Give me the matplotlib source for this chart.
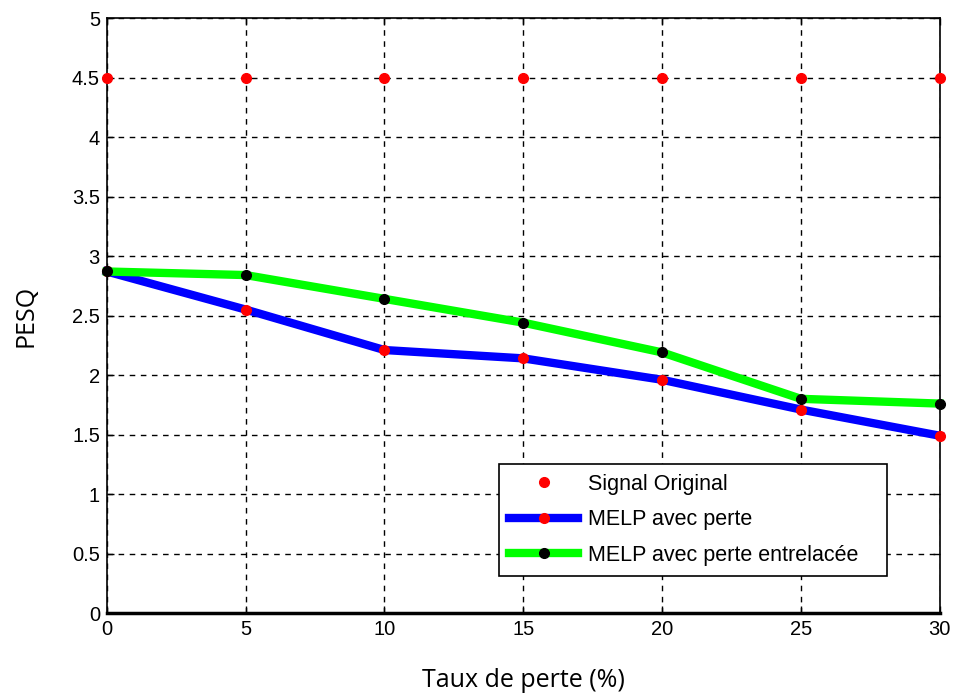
import matplotlib
matplotlib.use("Agg")
import matplotlib.pyplot as plt

taux = [0, 5, 10, 15, 20, 25, 30]
signal_original = [4.5, 4.5, 4.5, 4.5, 4.5, 4.5, 4.5]
melp_perte = [2.87, 2.55, 2.21, 2.14, 1.96, 1.71, 1.49]
melp_entrelacee = [2.87, 2.84, 2.64, 2.44, 2.19, 1.80, 1.76]
xticks = [0, 5, 10, 15, 20, 25, 30]
yticks = [0, 0.5, 1, 1.5, 2, 2.5, 3, 3.5, 4, 4.5, 5]
ytick_labels = ["0", "0.5", "1", "1.5", "2", "2.5", "3", "3.5", "4", "4.5", "5"]

fig = plt.figure(figsize=(9.54, 6.93), dpi=100)
ax = fig.add_axes([0.112, 0.1154, 0.873, 0.8586])

ax.plot(taux, signal_original, linestyle="none", marker="o", color="red",
        markersize=7, label="Signal Original", zorder=4, clip_on=False)
ax.plot(taux, melp_perte, color="#0000ff", linewidth=6, marker="o",
        markerfacecolor="red", markeredgecolor="red", markersize=7,
        label="MELP avec perte", zorder=3, clip_on=False)
ax.plot(taux, melp_entrelacee, color="#00ff00", linewidth=6, marker="o",
        markerfacecolor="black", markeredgecolor="black", markersize=7,
        label="MELP avec perte entrelacée", zorder=3, clip_on=False)

ax.set_xlim(0, 30)
ax.set_ylim(0, 5)
ax.set_xticks(xticks)
ax.set_yticks(yticks)
ax.set_yticklabels(ytick_labels)
for lbl in ax.get_xticklabels() + ax.get_yticklabels():
    lbl.set_family("Liberation Sans")
    lbl.set_fontsize(14.5)
ax.tick_params(direction="in", length=5, width=1, top=True, right=True, pad=5)

ax.grid(True, color="black", linestyle=(0, (4, 4)), linewidth=1)
for s in ax.spines.values():
    s.set_linewidth(1.2)
ax.spines["bottom"].set_linewidth(2.5)

ax.set_xlabel("Taux de perte (%)", fontsize=18, family="Open Sans", labelpad=21)
ax.set_ylabel("PESQ", fontsize=18, family="Open Sans", labelpad=24)

leg = ax.legend(loc="lower left", bbox_to_anchor=(0.471, 0.062, 0.466, 0.19),
                mode="expand", fancybox=False, framealpha=1, edgecolor="black",
                prop={"family": "Liberation Sans", "size": 15.5}, handlelength=3.2,
                borderpad=0.48, labelspacing=0.67, handletextpad=0.45,
                borderaxespad=0.0)
leg.get_frame().set_linewidth(1.2)

fig.savefig("out.png", dpi=100)
